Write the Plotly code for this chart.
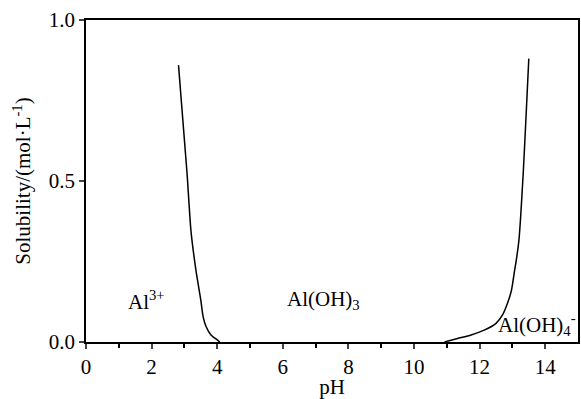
import plotly.graph_objects as go

# Left branch (Al3+ dissolving region)
ph_acid = [2.82, 3.08, 3.20, 3.35, 3.50, 3.57, 3.66, 3.81, 4.01, 4.08]
sol_acid = [0.86, 0.525, 0.345, 0.224, 0.13, 0.079, 0.048, 0.022, 0.006, 0.0]

# Right branch (Al(OH)4- region)
ph_base = [10.93, 11.33, 11.74, 12.14, 12.50, 12.70, 12.85, 12.97, 13.07, 13.12, 13.20, 13.33, 13.43, 13.50]
sol_base = [0.0, 0.011, 0.022, 0.037, 0.058, 0.084, 0.12, 0.16, 0.224, 0.255, 0.317, 0.524, 0.73, 0.88]

x_ticks = [0, 2, 4, 6, 8, 10, 12, 14]
y_ticks = [0.0, 0.5, 1.0]
y_tick_labels = ["0.0", "0.5", "1.0"]

labels = ["Al<sup>3+</sup>", "Al(OH)<sub>3</sub>", "Al(OH)<sub>4</sub><sup>-</sup>"]
label_x = [1.85, 7.24, 13.75]
label_y = [0.13, 0.13, 0.055]

FONT = "Liberation Serif"

fig = go.Figure()
for xs, ys in [(ph_acid, sol_acid), (ph_base, sol_base)]:
    fig.add_trace(go.Scatter(x=xs, y=ys, mode="lines",
                             line=dict(color="black", width=1.5, shape="spline", smoothing=0.6),
                             showlegend=False, hoverinfo="skip"))

for t, x, y in zip(labels, label_x, label_y):
    fig.add_annotation(x=x, y=y, text=t, showarrow=False,
                       font=dict(family=FONT, size=21, color="black"))

fig.update_layout(
    width=581, height=399,
    margin=dict(l=86, r=1, t=20, b=57),
    paper_bgcolor="white", plot_bgcolor="white",
    font=dict(family=FONT, size=21, color="black"),
)
fig.update_xaxes(range=[0, 15], tickvals=x_ticks, ticks="outside", ticklen=5,
                 tickwidth=1.5, showline=True, linecolor="black", linewidth=1.5,
                 mirror=True, showgrid=False, zeroline=False,
                 minor=dict(tickvals=[1, 3, 5, 7, 9, 11, 13], ticks="outside",
                            ticklen=4, tickcolor="black", tickwidth=1.5),
                 title=dict(text="pH", standoff=4, font=dict(family=FONT, size=21)),
                 tickfont=dict(family=FONT, size=21))
fig.update_yaxes(range=[0, 1], tickvals=y_ticks, ticktext=y_tick_labels,
                 ticks="outside", ticklen=5, tickwidth=1.5,
                 showline=True, linecolor="black", linewidth=1.5, mirror=True,
                 showgrid=False, zeroline=False,
                 title=dict(text="Solubility/(mol·L<sup>-1</sup>)", standoff=12,
                            font=dict(family=FONT, size=21)),
                 tickfont=dict(family=FONT, size=21))

fig.write_html("out.html")
